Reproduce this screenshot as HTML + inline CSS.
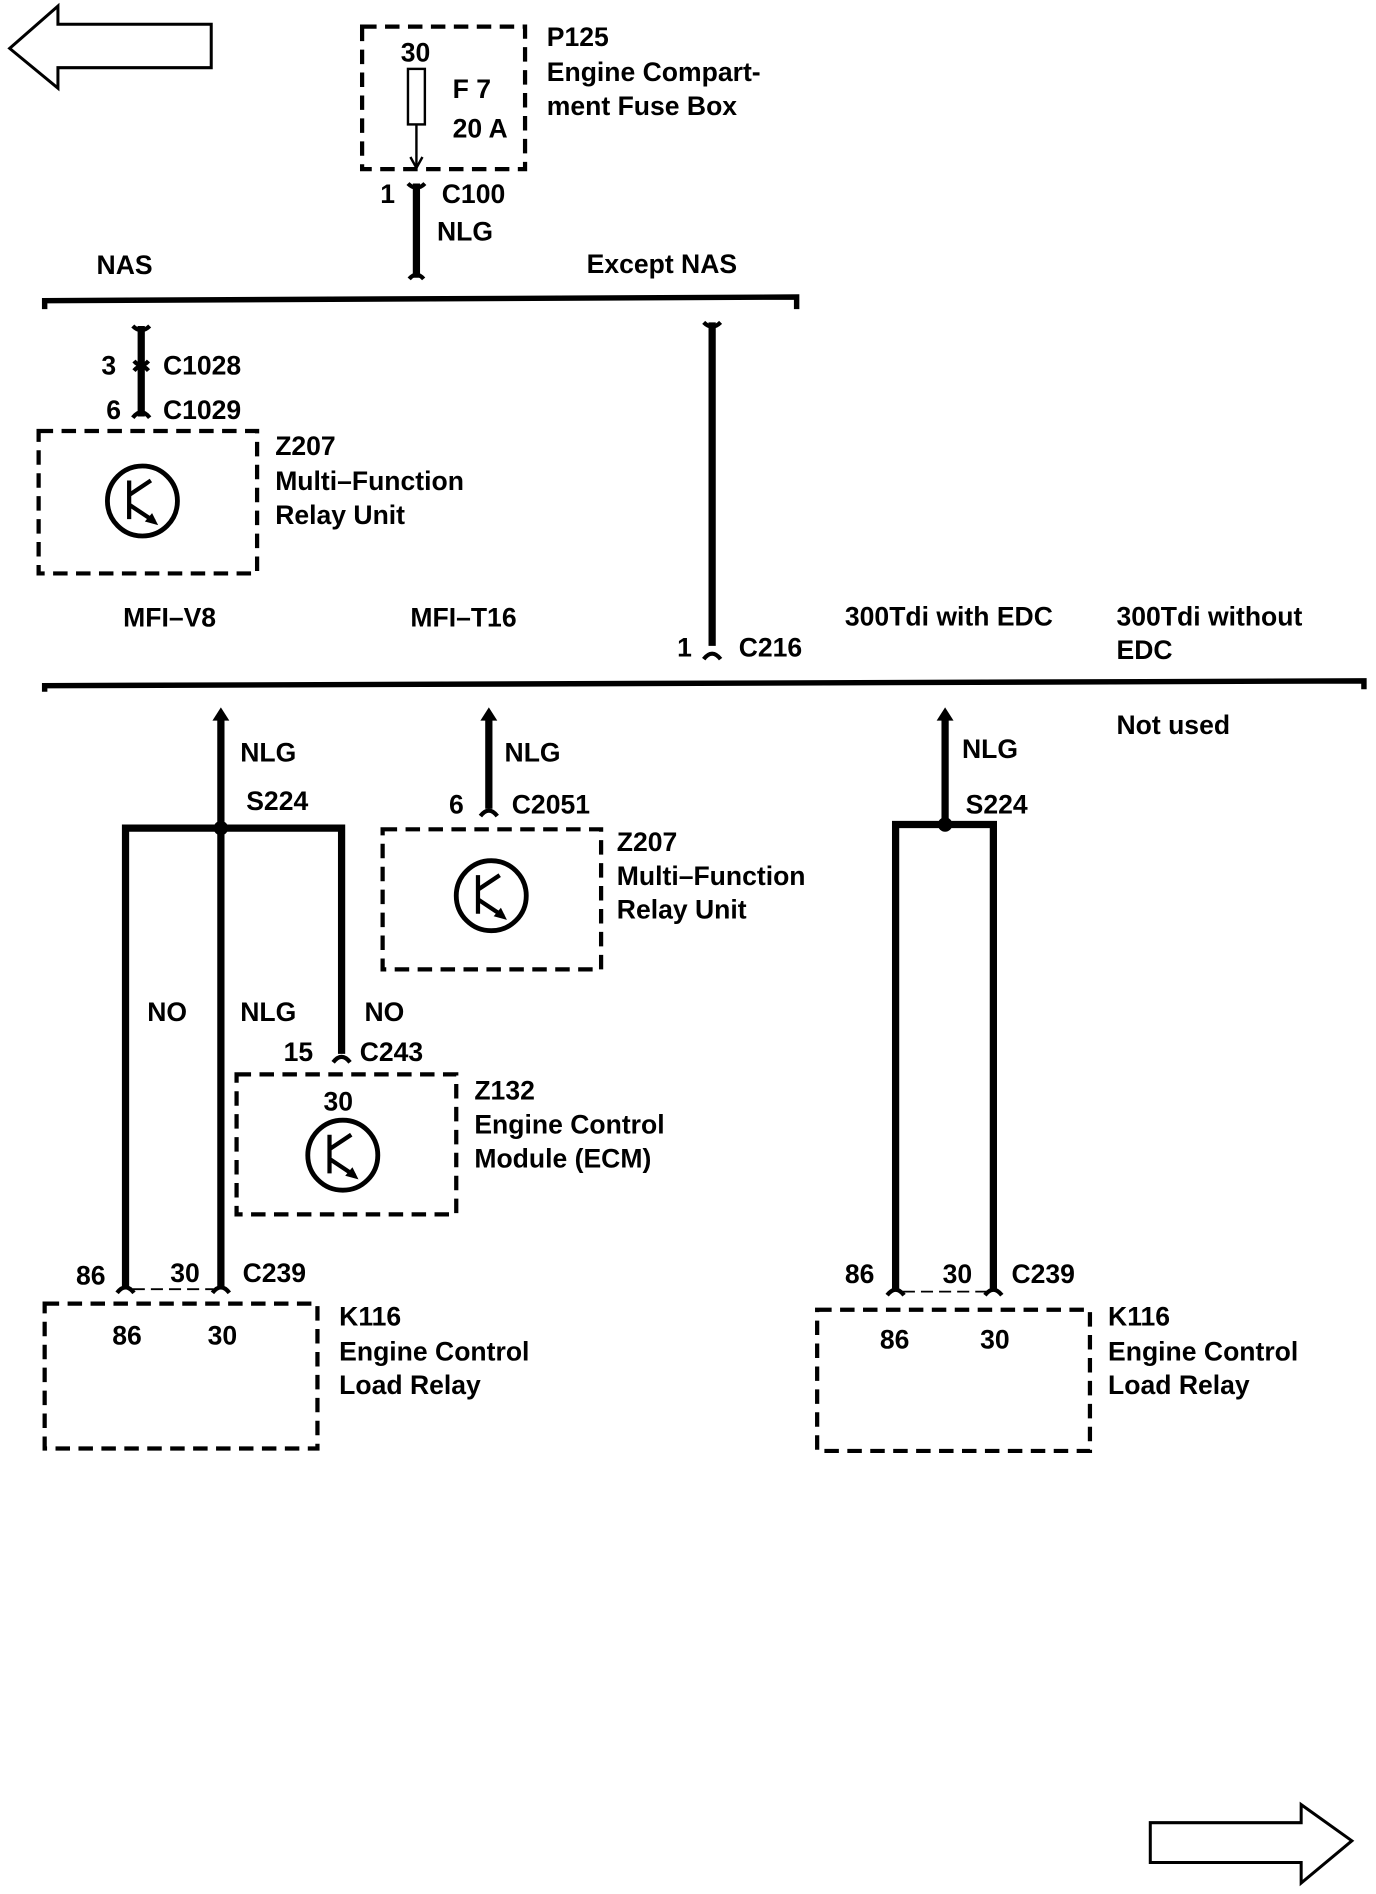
<!DOCTYPE html>
<html><head><meta charset="utf-8"><style>
html,body{margin:0;padding:0;background:#fff}
svg{display:block}
text{font-family:"Liberation Sans",Arial,sans-serif;font-weight:bold;font-size:22px;fill:#000}
</style></head><body>
<svg width="1376" height="1894" viewBox="0 0 1140 1569" xmlns="http://www.w3.org/2000/svg">
<g fill="none" stroke="#000">
<polygon points="8,40 48,5 48,20 175,20 175,56 48,56 48,73" stroke-width="2.5" fill="#fff"/>
<polygon points="1120,1525 1078,1495 1078,1510 953,1510 953,1543 1078,1543 1078,1560" stroke-width="2.5" fill="#fff"/>
<g stroke-width="3.5" stroke-dasharray="12,7">
<rect x="300" y="22" width="135" height="118"/>
<rect x="32" y="357" width="181" height="118"/>
<rect x="317" y="687" width="181" height="116"/>
<rect x="196" y="890" width="182" height="116"/>
<rect x="37" y="1080" width="226" height="120"/>
<rect x="677" y="1085" width="226" height="117"/>
</g>
<rect x="338" y="57" width="14" height="46" stroke-width="2"/>
<line x1="345" y1="103" x2="345" y2="138" stroke-width="2"/>
<polyline points="340,130 345,139 350,130" stroke-width="2"/>
<g stroke-width="6">
<line x1="345" y1="152" x2="345" y2="230"/>
<line x1="117" y1="270" x2="117" y2="345"/>
<line x1="590" y1="267" x2="590" y2="535"/>
<line x1="183" y1="594" x2="183" y2="1066"/>
<line x1="405" y1="594" x2="405" y2="670"/>
<line x1="783" y1="594" x2="783" y2="678"/>
<polyline points="104,1066 104,686 283,686 283,873"/>
<polyline points="742,1068 742,683 823,683 823,1068"/>
</g>
<g stroke-width="4.5">
<polyline points="37,256 37,249 660,246 660,256"/>
<polyline points="37,573 37,568 1130,564 1130,571"/>
</g>
<g stroke-width="3.5">
<path d="M338,152 Q345,159 352,152"/>
<path d="M339,231 Q345,224 351,231"/>
<path d="M110,270 Q117,277 124,270"/>
<path d="M110,346 Q117,337 124,346"/>
<path d="M111,299 Q117,306 123,299 M111,307 Q117,300 123,307"/>
<path d="M583,267 Q590,274 597,267"/>
<path d="M583,546 Q590,537 597,546"/>
<path d="M398,676 Q405,667 412,676"/>
<path d="M276,880 Q283,871 290,880"/>
<path d="M97,1071 Q104,1062 111,1071 M176,1071 Q183,1062 190,1071"/>
<path d="M735,1073 Q742,1064 749,1073 M816,1073 Q823,1064 830,1073"/>
</g>
<line x1="110" y1="1068" x2="177" y2="1068" stroke-width="1.5" stroke-dasharray="10,5"/>
<line x1="748" y1="1070" x2="817" y2="1070" stroke-width="1.5" stroke-dasharray="10,5"/>
<g fill="#000" stroke="none">
<path d="M176,597 L183,586 L190,597Z"/>
<path d="M398,597 L405,586 L412,597Z"/>
<path d="M776,597 L783,586 L790,597Z"/>
<circle cx="183" cy="686" r="6"/>
<circle cx="783" cy="683" r="6"/>
</g>
<g stroke-width="4">
<circle cx="118" cy="415" r="29"/>
<circle cx="407" cy="742" r="29"/>
<circle cx="284" cy="957" r="29"/>
</g>
<g stroke-width="3.5">
<path d="M107,398 L107,430 M107,410 L125,398 M107,418 L128,432"/>
<path d="M396,725 L396,757 M396,737 L414,725 M396,745 L417,759"/>
<path d="M273,940 L273,972 M273,952 L291,940 M273,960 L294,974"/>
</g>
<g fill="#000" stroke="none">
<path d="M131,435 L120,432 L126,425Z"/>
<path d="M420,762 L409,759 L415,752Z"/>
<path d="M297,977 L286,974 L292,967Z"/>
</g>
</g>
<text x="332" y="51">30</text>
<text x="375" y="81">F 7</text>
<text x="375" y="114">20 A</text>
<text x="453" y="38">P125</text>
<text x="453" y="67">Engine Compart-</text>
<text x="453" y="95">ment Fuse Box</text>
<text x="315" y="168">1</text>
<text x="366" y="168">C100</text>
<text x="362" y="199">NLG</text>
<text x="80" y="227">NAS</text>
<text x="486" y="226">Except NAS</text>
<text x="84" y="310">3</text>
<text x="135" y="310">C1028</text>
<text x="88" y="347">6</text>
<text x="135" y="347">C1029</text>
<text x="228" y="377">Z207</text>
<text x="228" y="406">Multi–Function</text>
<text x="228" y="434">Relay Unit</text>
<text x="102" y="519">MFI–V8</text>
<text x="340" y="519">MFI–T16</text>
<text x="700" y="518">300Tdi with EDC</text>
<text x="925" y="518">300Tdi without</text>
<text x="925" y="546">EDC</text>
<text x="561" y="544">1</text>
<text x="612" y="544">C216</text>
<text x="199" y="631">NLG</text>
<text x="204" y="671">S224</text>
<text x="418" y="631">NLG</text>
<text x="372" y="674">6</text>
<text x="424" y="674">C2051</text>
<text x="797" y="628">NLG</text>
<text x="800" y="674">S224</text>
<text x="925" y="608">Not used</text>
<text x="511" y="705">Z207</text>
<text x="511" y="733">Multi–Function</text>
<text x="511" y="761">Relay Unit</text>
<text x="122" y="846">NO</text>
<text x="199" y="846">NLG</text>
<text x="302" y="846">NO</text>
<text x="235" y="879">15</text>
<text x="298" y="879">C243</text>
<text x="268" y="920">30</text>
<text x="393" y="911">Z132</text>
<text x="393" y="939">Engine Control</text>
<text x="393" y="967">Module (ECM)</text>
<text x="63" y="1064">86</text>
<text x="141" y="1062">30</text>
<text x="201" y="1062">C239</text>
<text x="93" y="1114">86</text>
<text x="172" y="1114">30</text>
<text x="281" y="1098">K116</text>
<text x="281" y="1127">Engine Control</text>
<text x="281" y="1155">Load Relay</text>
<text x="700" y="1063">86</text>
<text x="781" y="1063">30</text>
<text x="838" y="1063">C239</text>
<text x="729" y="1117">86</text>
<text x="812" y="1117">30</text>
<text x="918" y="1098">K116</text>
<text x="918" y="1127">Engine Control</text>
<text x="918" y="1155">Load Relay</text>
</svg>
</body></html>
